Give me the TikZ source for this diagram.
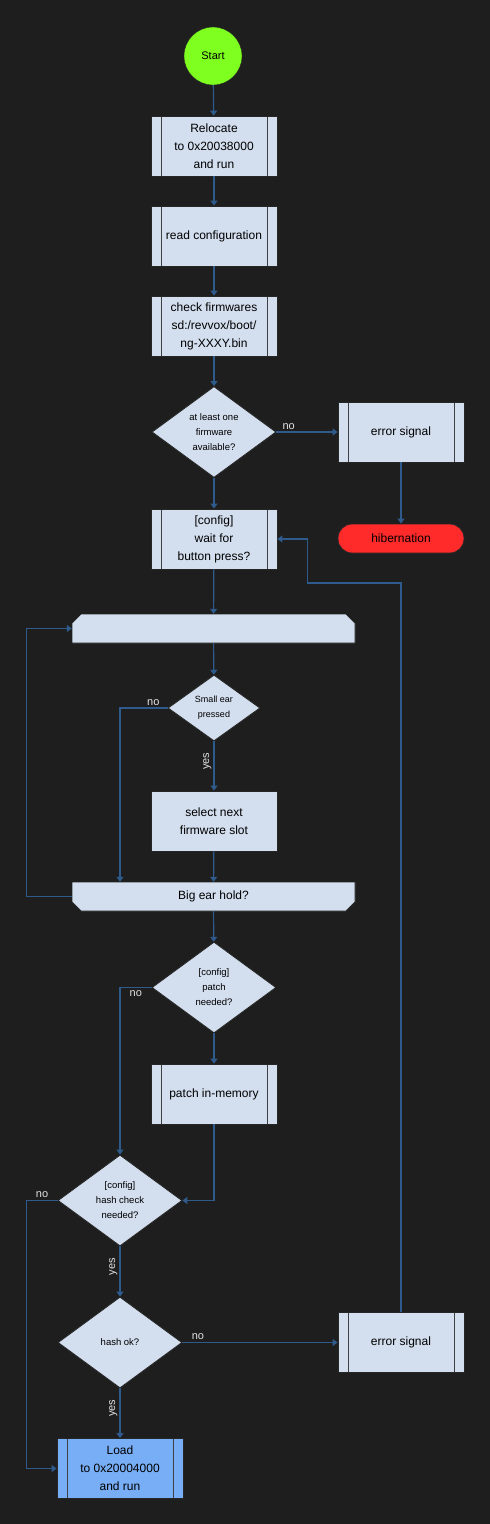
\documentclass[tikz,border=0pt]{standalone}
\usepackage{fontspec}
\setmainfont{Liberation Sans}
\usetikzlibrary{shapes.geometric,arrows.meta}

\definecolor{bgdark}{HTML}{1E1E1E}
\definecolor{boxfill}{HTML}{D3DEEE}
\definecolor{flowline}{HTML}{2E5B8C}
\definecolor{startgreen}{HTML}{7FFF1F}
\definecolor{stopred}{HTML}{FF2A2A}
\definecolor{loadblue}{HTML}{78AEF5}
\definecolor{labelgray}{HTML}{E2E2E2}

\tikzset{
    box/.style={draw=black!85, fill=boxfill, line width=0.8pt, minimum width=126pt, minimum height=60pt,
        inner sep=0pt, align=center, font=\fontsize{12}{18}\selectfont},
    subproc/.style={box, path picture={
        \draw[black!75, line width=1pt]
            ([xshift=10pt]path picture bounding box.north west) -- ([xshift=10pt]path picture bounding box.south west)
            ([xshift=-10pt]path picture bounding box.north east) -- ([xshift=-10pt]path picture bounding box.south east);}},
    decision/.style={diamond, draw=black!85, fill=boxfill, line width=0.8pt, aspect=1.4, inner sep=0pt,
        minimum width=124pt, minimum height=91pt, align=center, font=\fontsize{9.5}{15}\selectfont},
    loopshape/.style={rectangle, fill=bgdark, minimum width=283pt, minimum height=29pt, inner sep=0pt,
        font=\fontsize{12}{18}\selectfont},
    looptop/.style={loopshape, path picture={
        \filldraw[fill=boxfill, draw=black!85, line width=0.8pt]
            ([yshift=-9pt]path picture bounding box.north west) -- ([xshift=9pt]path picture bounding box.north west)
            -- ([xshift=-9pt]path picture bounding box.north east) -- ([yshift=-9pt]path picture bounding box.north east)
            -- (path picture bounding box.south east) -- (path picture bounding box.south west) -- cycle;}},
    loopend/.style={loopshape, path picture={
        \filldraw[fill=boxfill, draw=black!85, line width=0.8pt]
            (path picture bounding box.north west) -- (path picture bounding box.north east)
            -- ([yshift=9pt]path picture bounding box.south east) -- ([xshift=-9pt]path picture bounding box.south east)
            -- ([xshift=9pt]path picture bounding box.south west) -- ([yshift=9pt]path picture bounding box.south west) -- cycle;}},
    flow/.style={flowline, line width=1.2pt, -{Triangle[width=7pt,length=5pt]}},
    lbl/.style={text=labelgray, font=\fontsize{11}{13}\selectfont, inner sep=2pt}
}

\begin{document}
\begin{tikzpicture}[x=1pt, y=-1pt]
    \fill[bgdark] (0,0) rectangle (490,1524);

    \node[circle, draw=black!85, fill=startgreen, minimum size=58pt, inner sep=0pt,
        font=\fontsize{11}{13}\selectfont] (start) at (213,56) {Start};
    \node[subproc] (reloc) at (214,146) {Relocate\\to 0x20038000\\and run};
    \node[subproc] (readcfg) at (214,236) {read configuration};
    \node[subproc] (checkfw) at (214,326) {check firmwares\\sd:/revvox/boot/\\ng-XXXY.bin};
    \node[decision] (anyfw) at (214,432) {at least one\\firmware\\available?};
    \node[subproc] (err1) at (401,432) {error signal};
    \node[rectangle, rounded corners=14pt, draw=black!85, fill=stopred, line width=0.8pt,
        minimum width=126pt, minimum height=29pt, font=\fontsize{12}{18}\selectfont] (hibern) at (401,538.5) {hibernation};
    \node[subproc] (waitbtn) at (214,539) {[config]\\wait for\\button press?};
    \node[looptop] (looptop) at (213.5,628.5) {};
    \node[decision, minimum width=92pt, minimum height=66pt, font=\fontsize{9}{15}\selectfont] (smallear) at (214,708) {Small ear\\pressed};
    \node[box] (nextslot) at (214,821) {select next\\firmware slot};
    \node[loopend] (bigear) at (213.5,896.5) {Big ear hold?};
    \node[decision] (patchq) at (214,987.5) {[config]\\patch\\needed?};
    \node[subproc] (patch) at (214,1094) {patch in-memory};
    \node[decision] (hashq) at (120,1200.5) {[config]\\hash check\\needed?};
    \node[decision] (hashok) at (120,1342.5) {hash ok?};
    \node[subproc] (err2) at (401,1342.5) {error signal};
    \node[subproc, fill=loadblue] (load) at (120,1468.5) {Load\\to 0x20004000\\and run};

    \draw[flow] (start) -- (reloc);
    \draw[flow] (reloc) -- (readcfg);
    \draw[flow] (readcfg) -- (checkfw);
    \draw[flow] (checkfw) -- (anyfw);
    \draw[flow] (anyfw) -- (waitbtn);
    \draw[flow] (anyfw.east) -- node[lbl, pos=0.2, above] {no} (err1.west);
    \draw[flow] (err1) -- (hibern);
    \draw[flow] (waitbtn) -- (looptop);
    \draw[flow] (looptop) -- (smallear);
    \draw[flow] (smallear) -- node[lbl, pos=0.4, rotate=90, anchor=south] {yes} (nextslot);
    \draw[flow] (smallear.west) -| node[lbl, pos=0.15, above] {no} ([xshift=-93.5pt]bigear.north);
    \draw[flow] (nextslot) -- (bigear);
    \draw[flow] (bigear.west) -- ++(-45,0) |- (looptop.west);
    \draw[flow] (bigear) -- (patchq);
    \draw[flow] (patchq) -- (patch);
    \draw[flow] (patchq.west) -| node[lbl, pos=0.25, below] {no} (hashq.north);
    \draw[flow] (patch.south) |- (hashq.east);
    \draw[flow] (hashq.west) -- node[lbl, above] {no} ++(-31,0) |- (load.west);
    \draw[flow] (hashq) -- node[lbl, pos=0.4, rotate=90, anchor=south] {yes} (hashok);
    \draw[flow] (hashok.east) -- node[lbl, pos=0.1, above] {no} (err2.west);
    \draw[flow] (hashok) -- node[lbl, pos=0.4, rotate=90, anchor=south] {yes} (load);
    \draw[flow] (err2.north) -- (err2.north |- 0,583) -| ([xshift=30pt]waitbtn.east) -- (waitbtn.east);
\end{tikzpicture}
\end{document}
